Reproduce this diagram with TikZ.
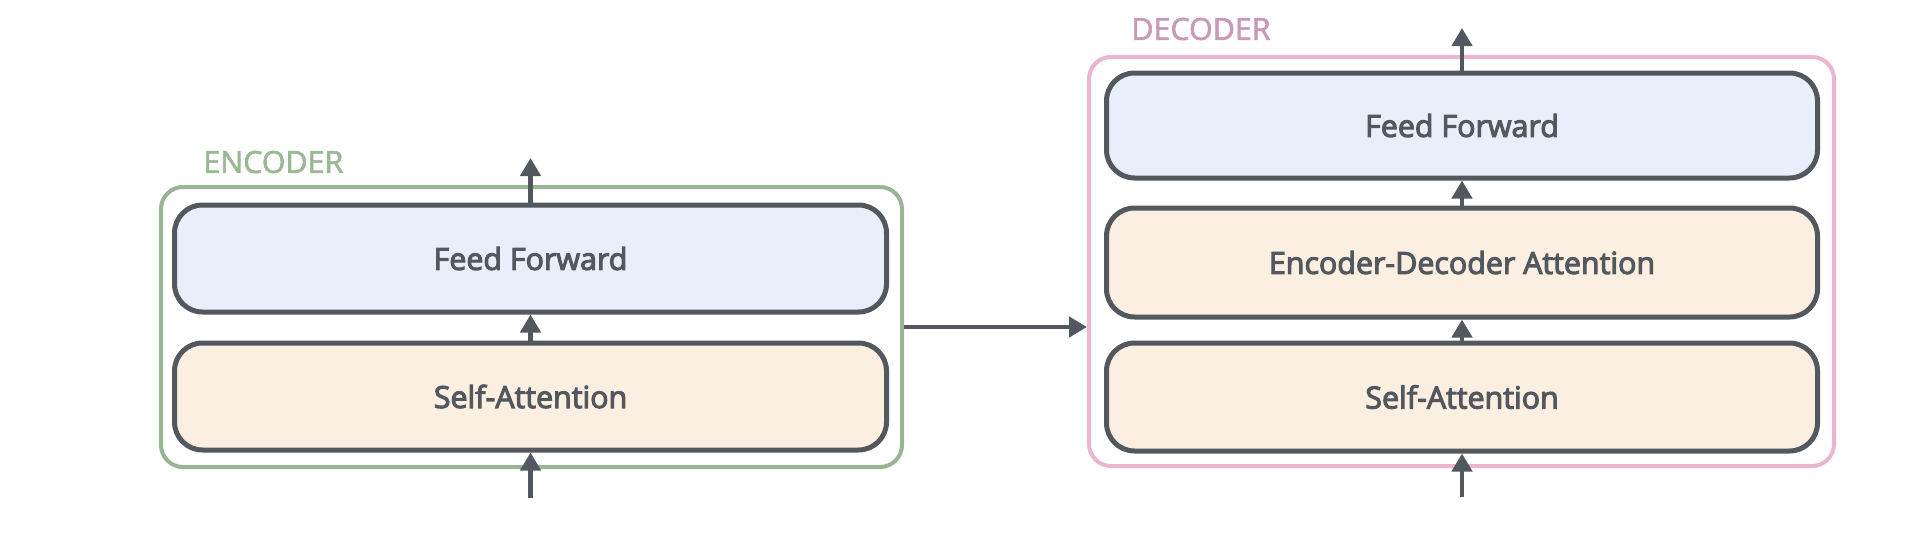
\documentclass[tikz,border=0pt]{standalone}
\usepackage{fontspec}
\newfontfamily\boxfont{Open Sans}[FakeBold=3.5]
\newfontfamily\labfont{Open Sans}[FakeBold=2]
\usetikzlibrary{arrows.meta}
\definecolor{ink}{HTML}{53585F}
\definecolor{fffill}{HTML}{E8EFFA}
\definecolor{safill}{HTML}{FBEFE1}
\definecolor{encgreen}{HTML}{99B594}
\definecolor{decpink}{HTML}{EBB4D1}
\definecolor{enclab}{HTML}{9BB895}
\definecolor{declab}{HTML}{C99AB6}
\tikzset{
  layer/.style={draw=ink, line width=2.5pt, rounded corners=14pt, inner sep=0pt,
    font=\boxfont\fontsize{15.2}{17}\selectfont, text=ink},
  ffbox/.style={layer, fill=fffill},
  sabox/.style={layer, fill=safill},
  outerbox/.style={line width=2pt, rounded corners=11pt, inner sep=0pt},
  arr/.style={draw=ink, line width=2.2pt, -{Triangle[width=10pt,length=9pt]}},
  lab/.style={font=\labfont\fontsize{15.2}{17}\selectfont, anchor=west, inner sep=0pt}
}
\begin{document}
\begin{tikzpicture}[x=0.5pt,y=-0.5pt]
\useasboundingbox[fill=white] (0,0) rectangle (1914,546);
% encoder
\node[outerbox, draw=encgreen, minimum width=370.5pt, minimum height=140pt] (enc) at (531.5,327) {};
\node[ffbox, minimum width=356pt, minimum height=53.5pt] (eff) at (530.5,258.5) {Feed Forward};
\node[sabox, minimum width=356pt, minimum height=53.5pt] (esa) at (530.5,396.5) {Self-Attention};
\node[lab, text=enclab] (enclabel) at (203,162) {ENCODER};
\coordinate (etop) at (530.5,158);
\coordinate (ebot) at (530.5,498);
\draw[arr] (eff.north) -- (etop);
\draw[arr] (esa.north) -- (eff.south);
\draw[arr] (ebot) -- (esa.south);
% decoder
\node[outerbox, draw=decpink, minimum width=372.5pt, minimum height=204.5pt] (dec) at (1461.5,261.5) {};
\node[ffbox, minimum width=355.5pt, minimum height=52.5pt] (dff) at (1462,125.5) {Feed Forward};
\node[sabox, minimum width=355.5pt, minimum height=54.5pt] (deda) at (1462,262.5) {Encoder-Decoder Attention};
\node[sabox, minimum width=355.5pt, minimum height=54pt] (dsa) at (1462,397) {Self-Attention};
\node[lab, text=declab] (declabel) at (1131,29) {DECODER};
\coordinate (dtop) at (1462,28);
\coordinate (dbot) at (1462,497);
\draw[arr] (dff.north) -- (dtop);
\draw[arr] (deda.north) -- (dff.south);
\draw[arr] (dsa.north) -- (deda.south);
\draw[arr] (dbot) -- (dsa.south);
% link
\draw[arr] (enc.east) -- (enc.east -| dec.west);
\end{tikzpicture}
\end{document}
